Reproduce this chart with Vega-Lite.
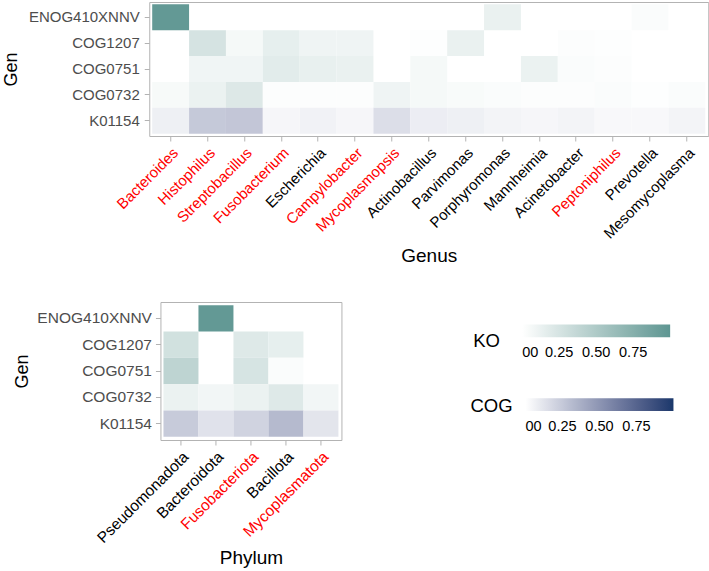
{
  "$schema": "https://vega.github.io/schema/vega-lite/v6.json",
  "background": "white",
  "padding": {"left": 1, "top": 1, "right": 0, "bottom": 0},
  "spacing": 35,
  "center": true,
  "config": {
    "font": "Liberation Sans",
    "view": {"stroke": "#b3b3b3", "strokeWidth": 1},
    "axis": {"domain": false, "grid": false, "tickColor": "#b3b3b3", "tickSize": 5, "labelColor": "#4d4d4d", "titleColor": "black", "titleFontWeight": "normal", "titleFontSize": 19},
    "legend": {"titleFontWeight": "normal", "titleColor": "black", "labelColor": "black"}
  },
  "datasets": {
    "genus": [
      {"taxon": "Bacteroides", "gen": "ENOG410XNNV", "value": 0.97},
      {"taxon": "Porphyromonas", "gen": "ENOG410XNNV", "value": 0.13},
      {"taxon": "Prevotella", "gen": "ENOG410XNNV", "value": 0.03},
      {"taxon": "Histophilus", "gen": "COG1207", "value": 0.26},
      {"taxon": "Streptobacillus", "gen": "COG1207", "value": 0.06},
      {"taxon": "Fusobacterium", "gen": "COG1207", "value": 0.15},
      {"taxon": "Escherichia", "gen": "COG1207", "value": 0.1},
      {"taxon": "Campylobacter", "gen": "COG1207", "value": 0.1},
      {"taxon": "Actinobacillus", "gen": "COG1207", "value": 0.01},
      {"taxon": "Parvimonas", "gen": "COG1207", "value": 0.13},
      {"taxon": "Acinetobacter", "gen": "COG1207", "value": 0.02},
      {"taxon": "Peptoniphilus", "gen": "COG1207", "value": 0.01},
      {"taxon": "Histophilus", "gen": "COG0751", "value": 0.09},
      {"taxon": "Streptobacillus", "gen": "COG0751", "value": 0.09},
      {"taxon": "Fusobacterium", "gen": "COG0751", "value": 0.18},
      {"taxon": "Escherichia", "gen": "COG0751", "value": 0.14},
      {"taxon": "Campylobacter", "gen": "COG0751", "value": 0.13},
      {"taxon": "Actinobacillus", "gen": "COG0751", "value": 0.06},
      {"taxon": "Mannheimia", "gen": "COG0751", "value": 0.12},
      {"taxon": "Acinetobacter", "gen": "COG0751", "value": 0.03},
      {"taxon": "Peptoniphilus", "gen": "COG0751", "value": 0.02},
      {"taxon": "Bacteroides", "gen": "COG0732", "value": 0.05},
      {"taxon": "Histophilus", "gen": "COG0732", "value": 0.12},
      {"taxon": "Streptobacillus", "gen": "COG0732", "value": 0.21},
      {"taxon": "Fusobacterium", "gen": "COG0732", "value": 0.02},
      {"taxon": "Escherichia", "gen": "COG0732", "value": 0.02},
      {"taxon": "Campylobacter", "gen": "COG0732", "value": 0.02},
      {"taxon": "Mycoplasmopsis", "gen": "COG0732", "value": 0.1},
      {"taxon": "Actinobacillus", "gen": "COG0732", "value": 0.06},
      {"taxon": "Parvimonas", "gen": "COG0732", "value": 0.04},
      {"taxon": "Porphyromonas", "gen": "COG0732", "value": 0.03},
      {"taxon": "Mannheimia", "gen": "COG0732", "value": 0.02},
      {"taxon": "Acinetobacter", "gen": "COG0732", "value": 0.02},
      {"taxon": "Peptoniphilus", "gen": "COG0732", "value": 0.03},
      {"taxon": "Prevotella", "gen": "COG0732", "value": 0.01},
      {"taxon": "Mesomycoplasma", "gen": "COG0732", "value": 0.03},
      {"taxon": "Bacteroides", "gen": "K01154", "value": 0.07},
      {"taxon": "Histophilus", "gen": "K01154", "value": 0.25},
      {"taxon": "Streptobacillus", "gen": "K01154", "value": 0.26},
      {"taxon": "Fusobacterium", "gen": "K01154", "value": 0.04},
      {"taxon": "Escherichia", "gen": "K01154", "value": 0.06},
      {"taxon": "Campylobacter", "gen": "K01154", "value": 0.04},
      {"taxon": "Mycoplasmopsis", "gen": "K01154", "value": 0.15},
      {"taxon": "Actinobacillus", "gen": "K01154", "value": 0.08},
      {"taxon": "Parvimonas", "gen": "K01154", "value": 0.07},
      {"taxon": "Porphyromonas", "gen": "K01154", "value": 0.05},
      {"taxon": "Mannheimia", "gen": "K01154", "value": 0.04},
      {"taxon": "Acinetobacter", "gen": "K01154", "value": 0.05},
      {"taxon": "Peptoniphilus", "gen": "K01154", "value": 0.03},
      {"taxon": "Prevotella", "gen": "K01154", "value": 0.03},
      {"taxon": "Mesomycoplasma", "gen": "K01154", "value": 0.05}
    ],
    "phylum": [
      {"taxon": "Bacteroidota", "gen": "ENOG410XNNV", "value": 0.97},
      {"taxon": "Pseudomonadota", "gen": "COG1207", "value": 0.28},
      {"taxon": "Fusobacteriota", "gen": "COG1207", "value": 0.2},
      {"taxon": "Bacillota", "gen": "COG1207", "value": 0.15},
      {"taxon": "Pseudomonadota", "gen": "COG0751", "value": 0.4},
      {"taxon": "Fusobacteriota", "gen": "COG0751", "value": 0.25},
      {"taxon": "Bacillota", "gen": "COG0751", "value": 0.03},
      {"taxon": "Pseudomonadota", "gen": "COG0732", "value": 0.12},
      {"taxon": "Bacteroidota", "gen": "COG0732", "value": 0.08},
      {"taxon": "Fusobacteriota", "gen": "COG0732", "value": 0.12},
      {"taxon": "Bacillota", "gen": "COG0732", "value": 0.2},
      {"taxon": "Mycoplasmatota", "gen": "COG0732", "value": 0.08},
      {"taxon": "Pseudomonadota", "gen": "K01154", "value": 0.24},
      {"taxon": "Bacteroidota", "gen": "K01154", "value": 0.13},
      {"taxon": "Fusobacteriota", "gen": "K01154", "value": 0.2},
      {"taxon": "Bacillota", "gen": "K01154", "value": 0.32},
      {"taxon": "Mycoplasmatota", "gen": "K01154", "value": 0.12}
    ]
  },
  "vconcat": [
    {
      "width": 559,
      "height": 134,
      "data": {"name": "genus"},
      "encoding": {
        "x": {
          "field": "taxon", "type": "nominal", "title": "Genus",
          "scale": {"domain": ["Bacteroides", "Histophilus", "Streptobacillus", "Fusobacterium", "Escherichia", "Campylobacter", "Mycoplasmopsis", "Actinobacillus", "Parvimonas", "Porphyromonas", "Mannheimia", "Acinetobacter", "Peptoniphilus", "Prevotella", "Mesomycoplasma"], "paddingInner": 0, "paddingOuter": 0.08},
          "axis": {
            "labelAngle": -45, "labelAlign": "right", "labelBaseline": "top", "labelFontSize": 15, "labelPadding": 4,
            "labelColor": {"condition": {"test": "indexof(['Bacteroides','Histophilus','Streptobacillus','Fusobacterium','Campylobacter','Mycoplasmopsis','Peptoniphilus'], datum.value) >= 0", "value": "red"}, "value": "black"},
            "titlePadding": 5
          }
        },
        "y": {
          "field": "gen", "type": "nominal", "title": "Gen",
          "scale": {"domain": ["ENOG410XNNV", "COG1207", "COG0751", "COG0732", "K01154"], "paddingInner": 0, "paddingOuter": 0.09},
          "axis": {"labelFontSize": 15, "labelPadding": 5, "titleFontSize": 18, "titleX": -129}
        }
      },
      "layer": [
        {
          "transform": [{"filter": "datum.gen != 'K01154'"}],
          "mark": {"type": "rect"},
          "encoding": {"color": {"field": "value", "type": "quantitative", "title": "KO", "scale": {"domain": [0, 1], "range": ["#ffffff", "#5e9692"], "interpolate": "lab"}, "legend": null}}
        },
        {
          "transform": [{"filter": "datum.gen == 'K01154'"}],
          "mark": {"type": "rect"},
          "encoding": {"color": {"field": "value", "type": "quantitative", "title": "COG", "scale": {"domain": [0, 1], "range": ["#ffffff", "#1a386b"], "interpolate": "lab"}, "legend": null}}
        }
      ],
      "resolve": {"scale": {"color": "independent"}}
    },
    {
      "width": 181,
      "height": 138,
      "data": {"name": "phylum"},
      "encoding": {
        "x": {
          "field": "taxon", "type": "nominal", "title": "Phylum",
          "scale": {"domain": ["Pseudomonadota", "Bacteroidota", "Fusobacteriota", "Bacillota", "Mycoplasmatota"], "paddingInner": 0, "paddingOuter": 0.086},
          "axis": {
            "labelAngle": -45, "labelAlign": "right", "labelBaseline": "top", "labelFontSize": 15.5, "labelPadding": 4,
            "labelColor": {"condition": {"test": "indexof(['Fusobacteriota','Mycoplasmatota'], datum.value) >= 0", "value": "red"}, "value": "black"},
            "titlePadding": 3
          }
        },
        "y": {
          "field": "gen", "type": "nominal", "title": "Gen",
          "scale": {"domain": ["ENOG410XNNV", "COG1207", "COG0751", "COG0732", "K01154"], "paddingInner": 0, "paddingOuter": 0.12},
          "axis": {"labelFontSize": 15.5, "labelPadding": 4, "titleFontSize": 18, "titleX": -129}
        }
      },
      "layer": [
        {
          "transform": [{"filter": "datum.gen != 'K01154'"}],
          "mark": {"type": "rect"},
          "encoding": {"color": {"field": "value", "type": "quantitative", "title": "KO", "scale": {"domain": [0, 1], "range": ["#ffffff", "#5e9692"], "interpolate": "lab"},
            "legend": {"orient": "none", "legendX": 312.7, "legendY": 22.5, "direction": "horizontal", "titleOrient": "left", "titleBaseline": "line-top", "titleLineHeight": 21, "gradientLength": 148, "gradientThickness": 12.7, "gradientStrokeWidth": 0, "values": [0, 0.25, 0.5, 0.75], "labelExpr": "datum.value == 0 ? '00' : format(datum.value, '.2f')", "titleFontSize": 18.5, "titlePadding": 22, "labelFontSize": 14.5, "labelOffset": 9}}}
        },
        {
          "transform": [{"filter": "datum.gen == 'K01154'"}],
          "mark": {"type": "rect"},
          "encoding": {"color": {"field": "value", "type": "quantitative", "title": "COG", "scale": {"domain": [0, 1], "range": ["#ffffff", "#1a386b"], "interpolate": "lab"},
            "legend": {"orient": "none", "legendX": 286.6, "legendY": 72.9, "padding": 23.4, "direction": "horizontal", "titleOrient": "left", "titleBaseline": "line-top", "titleLineHeight": 27, "gradientLength": 148, "gradientThickness": 12.7, "gradientStrokeWidth": 0, "values": [0, 0.25, 0.5, 0.75], "labelExpr": "datum.value == 0 ? '00' : format(datum.value, '.2f')", "titleFontSize": 18.5, "titlePadding": 12, "labelFontSize": 14.5, "labelOffset": 9}}}
        }
      ],
      "resolve": {"scale": {"color": "independent"}}
    }
  ],
  "resolve": {"scale": {"color": "independent"}, "legend": {"color": "independent"}}
}
